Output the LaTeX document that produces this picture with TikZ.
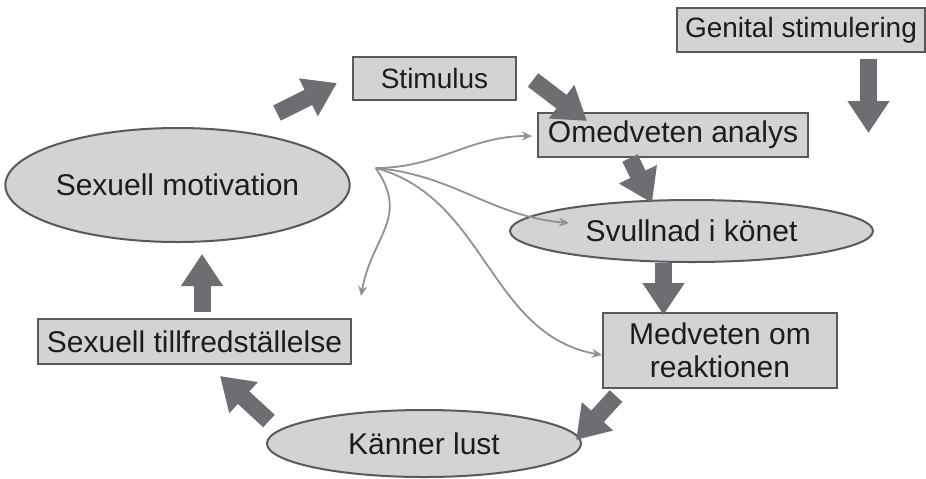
\documentclass[tikz,border=0pt]{standalone}
\usepackage{fontspec}
\setmainfont{Liberation Sans}
\usepackage{tikz}
\usetikzlibrary{arrows.meta,shapes.geometric}
\definecolor{fyllgra}{RGB}{211,211,213}
\definecolor{kantgra}{RGB}{88,89,91}
\definecolor{pilgra}{RGB}{109,110,113}
\definecolor{linjegra}{RGB}{145,145,147}
\definecolor{textgra}{RGB}{30,27,28}

\begin{document}
\begin{tikzpicture}[x=0.5pt, y=-0.5pt,
    ruta/.style={draw=kantgra, fill=fyllgra, line width=1pt, inner sep=0pt,
      text=textgra, font=\fontsize{15}{16.5}\selectfont, align=center},
    oval/.style={ruta, ellipse},
    liten/.style={font=\fontsize{14}{16}\selectfont},
    blockpil/.style={pilgra, line width=8.5pt, -{Triangle[width=20pt,length=16pt]}},
    tunnpil/.style={linjegra, line width=0.9pt, -{Stealth[length=5pt,width=4.5pt]}}]
    \useasboundingbox (0,0) rectangle (926,478);
    % rutor och ovaler
    \node[oval, minimum width=169.5pt, minimum height=57pt] (motiv) at (177.5,185) {Sexuell motivation};
    \node[ruta, liten, minimum width=81.5pt, minimum height=21.5pt] (stim) at (434.5,78.5) {Stimulus};
    \node[ruta, minimum width=135pt, minimum height=22pt] (omed) at (673,135) {Omedveten analys};
    \node[ruta, liten, minimum width=124pt, minimum height=22pt] (genital) at (801,30) {Genital stimulering};
    \node[oval, minimum width=181.5pt, minimum height=31pt] (svull) at (691.5,231) {Svullnad i könet};
    \node[ruta, minimum width=117pt, minimum height=37.5pt] (medv) at (720,350.5) {Medveten om\\reaktionen};
    \node[ruta, minimum width=156.5pt, minimum height=22.5pt] (tillf) at (194.5,341.5) {Sexuell tillfredställelse};
    \node[oval, minimum width=157pt, minimum height=33.5pt] (lust) at (424,443.5) {Känner lust};
    % tjocka pilar runt cirkeln
    \draw[blockpil] ([shift={(99.5,-72)}]motiv.center) -- ([shift={(-15,4.5)}]stim.west);
    \draw[blockpil] ([shift={(16,1.5)}]stim.east) -- ([shift={(50,9)}]omed.north west);
    \draw[blockpil] ([shift={(67.5,6)}]genital.south) -- ++(0,74);
    \draw[blockpil] ([shift={(-43,0)}]omed.south) -- ([shift={(-39.5,4)}]svull.north);
    \draw[blockpil] ([shift={(-28,0)}]svull.south) -- ([shift={(-56.5,3)}]medv.north);
    \draw[blockpil] ([shift={(14,7)}]medv.south west) -- ([shift={(-6,-3.5)}]lust.east);
    \draw[blockpil] ([shift={(3,-22.5)}]lust.west) -- ([shift={(25.5,11)}]tillf.south);
    \draw[blockpil] ([shift={(7.5,-6)}]tillf.north) -- ([shift={(24.5,11)}]motiv.south);
    % tunna pilar fran motivationen
    \coordinate (fan) at ([shift={(25,-17)}]motiv.east);
    \draw[tunnpil] (fan) to[out=0,in=180] ([shift={(-5,1)}]omed.west);
    \draw[tunnpil] (fan) to[out=-5,in=175] ([shift={(60,-8)}]svull.west);
    \draw[tunnpil] (fan) to[out=-15,in=170] ([shift={(0,4.5)}]medv.west);
    \draw[tunnpil] (fan) to[out=-55,in=80,looseness=1.2] ([shift={(9,-22)}]tillf.north east);
\end{tikzpicture}
\end{document}
